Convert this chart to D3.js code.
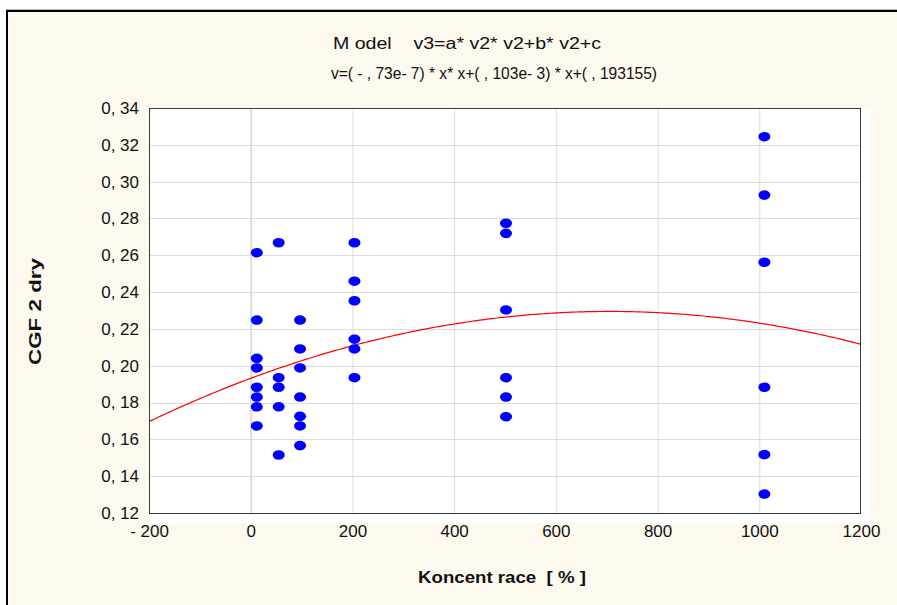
<!DOCTYPE html>
<html>
<head>
<meta charset="utf-8">
<script src="https://cdn.jsdelivr.net/npm/d3@7"></script>
<style>
  html, body { margin: 0; padding: 0; background: #ffffff; }
  svg { display: block; }
  text { font-family: "Liberation Sans", Arial, sans-serif; fill: #111; white-space: pre; }
</style>
</head>
<body>
<svg id="chart" width="897" height="605"></svg>
<script>
// Concentration groups (x) and measured CGF 2 dry values (y)
const concentration = [
  12, 12, 12, 12, 12, 12, 12, 12,
  55, 55, 55, 55, 55,
  97, 97, 97, 97, 97, 97, 97,
  204, 204, 204, 204, 204, 204,
  502, 502, 502, 502, 502, 502,
  1010, 1010, 1010, 1010, 1010, 1010
];
const cgf2dry = [
  0.2614, 0.2248, 0.2040, 0.1988, 0.1883, 0.1830, 0.1777, 0.1673,
  0.2668, 0.1935, 0.1883, 0.1777, 0.1515,
  0.2248, 0.2091, 0.1988, 0.1830, 0.1725, 0.1673, 0.1566,
  0.2668, 0.2459, 0.2353, 0.2144, 0.2091, 0.1935,
  0.2774, 0.2719, 0.2303, 0.1935, 0.1830, 0.1723,
  0.3244, 0.2927, 0.2562, 0.1883, 0.1517, 0.1303
];

// Quadratic fit coefficients: y = a*x*x + b*x + c
const coefA = -0.73e-7;
const coefB = 0.103e-3;
const coefC = 0.193155;

const xTicks = [-200, 0, 200, 400, 600, 800, 1000, 1200];
const yTicks = [0.12, 0.14, 0.16, 0.18, 0.20, 0.22, 0.24, 0.26, 0.28, 0.30, 0.32, 0.34];

const titleLine1 = "M odel    v3=a* v2* v2+b* v2+c";
const titleLine2 = "v=( - , 73e- 7) * x* x+( , 103e- 3) * x+( , 193155)";
const xTitle = "Koncent race  [ % ]";
const yTitle = "CGF 2 dry";

const svg = d3.select("#chart");

// Outer panel
svg.append("rect").attr("x", 6).attr("y", 9).attr("width", 900).attr("height", 610)
  .attr("fill", "#fdf9ef").attr("stroke", "none");
svg.append("line").attr("x1", 6).attr("x2", 897).attr("y1", 9.5).attr("y2", 9.5)
  .attr("stroke", "#b8b8b8").attr("stroke-width", 1);
svg.append("line").attr("x1", 6).attr("x2", 897).attr("y1", 11).attr("y2", 11)
  .attr("stroke", "#000").attr("stroke-width", 2);
svg.append("line").attr("x1", 7).attr("x2", 7).attr("y1", 10).attr("y2", 605)
  .attr("stroke", "#000").attr("stroke-width", 2);

const plotL = 149, plotR = 861, plotT = 108, plotB = 513;
const x = d3.scaleLinear().domain([-200, 1200]).range([plotL, plotR]);
const y = d3.scaleLinear().domain([0.12, 0.34]).range([plotB, plotT]);

// Plot area background
svg.append("rect").attr("x", plotL).attr("y", plotT).attr("width", 871 - plotL).attr("height", 523 - plotT)
  .attr("fill", "#ffffff");

// Grid
const grid = svg.append("g");
grid.selectAll("line.gx").data(xTicks.slice(1, -1)).join("line")
  .attr("x1", d => x(d) + 0.5).attr("x2", d => x(d) + 0.5)
  .attr("y1", plotT).attr("y2", plotB)
  .attr("stroke", "#dcdcdc").attr("stroke-width", d => d === 0 ? 2 : 1);
grid.selectAll("line.gy").data(yTicks.slice(1, -1)).join("line")
  .attr("x1", plotL).attr("x2", plotR)
  .attr("y1", d => Math.round(y(d)) + 0.5).attr("y2", d => Math.round(y(d)) + 0.5)
  .attr("stroke", "#dcdcdc").attr("stroke-width", 1);

// Fitted curve, clipped to plot area
svg.append("clipPath").attr("id", "plotclip").append("rect")
  .attr("x", plotL).attr("y", plotT).attr("width", plotR - plotL).attr("height", plotB - plotT);
const curveX = d3.range(-200, 1201, 5);
const line = d3.line().x(d => x(d)).y(d => y(coefA * d * d + coefB * d + coefC));
svg.append("path").datum(curveX).attr("d", line)
  .attr("fill", "none").attr("stroke", "#ff0000").attr("stroke-width", 1.2)
  .attr("clip-path", "url(#plotclip)");

// Points
const pts = concentration.map((c, i) => ({ c, v: cgf2dry[i] }));
svg.append("g").selectAll("ellipse").data(pts).join("ellipse")
  .attr("cx", d => x(d.c)).attr("cy", d => y(d.v))
  .attr("rx", 6).attr("ry", 4.8).attr("fill", "#0000ff");

// Frame
svg.append("rect").attr("x", plotL + 0.5).attr("y", plotT + 0.5)
  .attr("width", plotR - plotL - 1).attr("height", plotB - plotT)
  .attr("fill", "none").attr("stroke", "#3a3a3a").attr("stroke-width", 1);

// Axes (labels only, frame drawn above)
const fmtY = d => "0, " + d3.format(".2f")(d).split(".")[1];
const fmtX = d => d < 0 ? "- " + Math.abs(d) : String(d);

const xAxis = d3.axisBottom(x).tickValues(xTicks).tickSize(0).tickPadding(12).tickFormat(fmtX);
const gx = svg.append("g").attr("transform", `translate(0,${plotB})`).call(xAxis);
gx.select(".domain").remove();
gx.selectAll("text").attr("font-size", 17).attr("fill", "#111")
  .attr("font-family", "Liberation Sans, Arial, sans-serif");

const yAxis = d3.axisLeft(y).tickValues(yTicks).tickSize(0).tickPadding(10).tickFormat(fmtY);
const gy = svg.append("g").attr("transform", `translate(${plotL},0)`).call(yAxis);
gy.select(".domain").remove();
gy.selectAll("text").attr("font-size", 17).attr("fill", "#111")
  .attr("font-family", "Liberation Sans, Arial, sans-serif");

// Titles
svg.append("text").attr("x", 333).attr("y", 49).attr("font-size", 16)
  .attr("textLength", 268).attr("lengthAdjust", "spacingAndGlyphs").text(titleLine1);
svg.append("text").attr("x", 331).attr("y", 79).attr("font-size", 16)
  .attr("textLength", 326).attr("lengthAdjust", "spacingAndGlyphs").text(titleLine2);

svg.append("text").attr("x", 418).attr("y", 583).attr("font-size", 17).attr("font-weight", "bold")
  .attr("textLength", 168).attr("lengthAdjust", "spacingAndGlyphs").text(xTitle);

svg.append("text").attr("transform", "translate(41,365) rotate(-90)")
  .attr("font-size", 17).attr("font-weight", "bold")
  .attr("textLength", 107).attr("lengthAdjust", "spacingAndGlyphs").text(yTitle);
</script>
</body>
</html>
